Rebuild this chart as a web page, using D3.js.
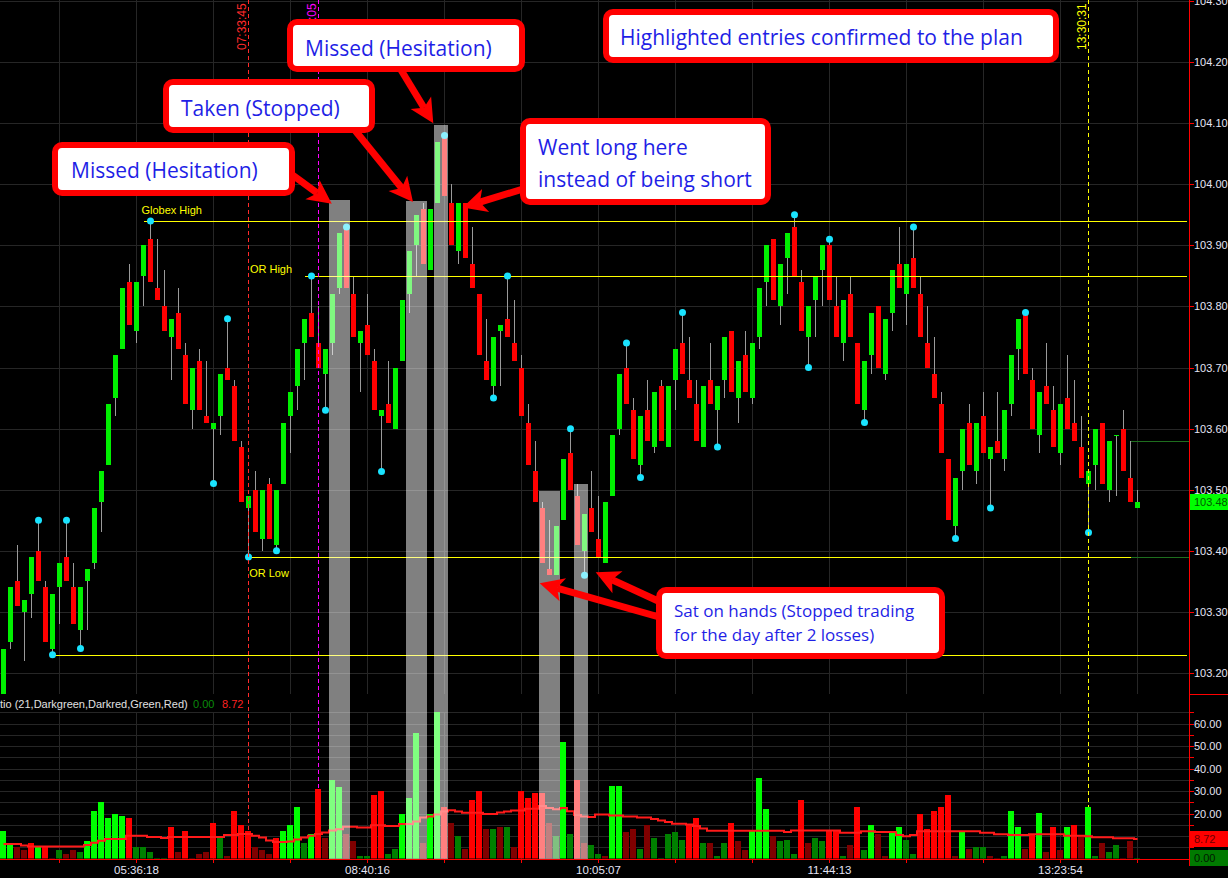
<!DOCTYPE html>
<html><head><meta charset="utf-8">
<script src="https://cdn.jsdelivr.net/npm/d3@7"></script>
<style>html,body{margin:0;padding:0;background:#000;overflow:hidden}</style>
</head><body>
<svg id="chart" width="1228" height="878"></svg>
<script>
// ---------- DATA ----------
const opens = [103.15,103.25,103.35,103.30,103.33,103.40,103.34,103.24,103.34,103.39,
103.34,103.27,103.35,103.38,103.48,103.54,103.65,103.73,103.84,103.76,
103.85,103.91,103.83,103.80,103.75,103.79,103.72,103.63,103.71,103.62,
103.60,103.62,103.70,103.67,103.57,103.47,103.50,103.42,103.51,103.41,
103.51,103.62,103.67,103.74,103.79,103.74,103.69,103.74,103.83,103.93,
103.82,103.74,103.77,103.71,103.62,103.64,103.60,103.71,103.82,103.90,
103.96,103.86,103.97,104.08,103.97,103.89,103.97,103.87,103.82,103.71,
103.67,103.76,103.78,103.74,103.70,103.61,103.53,103.47,103.37,103.36,
103.45,103.56,103.49,103.40,103.47,103.42,103.38,103.49,103.60,103.70,
103.63,103.54,103.63,103.57,103.67,103.57,103.68,103.74,103.68,103.64,
103.57,103.68,103.63,103.68,103.76,103.65,103.72,103.65,103.75,103.84,
103.91,103.80,103.88,103.93,103.84,103.75,103.81,103.86,103.90,103.80,
103.74,103.82,103.74,103.63,103.72,103.80,103.69,103.79,103.87,103.82,
103.88,103.82,103.74,103.69,103.64,103.55,103.44,103.53,103.61,103.53,
103.62,103.55,103.58,103.55,103.64,103.73,103.79,103.68,103.59,103.67,
103.63,103.56,103.65,103.61,103.57,103.51,103.54,103.61,103.50,103.59,
103.60,103.52,103.47];
const highs = [103.24,103.34,103.41,103.32,103.39,103.45,103.35,103.33,103.38,103.45,
103.38,103.34,103.37,103.47,103.53,103.64,103.72,103.83,103.87,103.84,
103.90,103.94,103.91,103.86,103.78,103.83,103.74,103.70,103.73,103.71,
103.61,103.69,103.78,103.68,103.58,103.49,103.53,103.50,103.52,103.50,
103.61,103.66,103.73,103.78,103.85,103.80,103.73,103.82,103.92,103.93,
103.85,103.76,103.82,103.73,103.63,103.71,103.70,103.81,103.89,103.95,
103.97,103.96,104.07,104.08,104.00,103.97,103.97,103.93,103.82,103.78,
103.75,103.77,103.85,103.81,103.72,103.64,103.58,103.48,103.45,103.44,
103.55,103.60,103.51,103.46,103.53,103.49,103.48,103.59,103.69,103.74,
103.65,103.62,103.68,103.66,103.68,103.67,103.73,103.79,103.75,103.68,
103.67,103.74,103.67,103.75,103.76,103.71,103.76,103.74,103.83,103.90,
103.91,103.87,103.92,103.95,103.86,103.80,103.85,103.90,103.91,103.85,
103.81,103.85,103.74,103.71,103.79,103.80,103.78,103.86,103.93,103.87,
103.93,103.85,103.80,103.75,103.66,103.55,103.52,103.60,103.64,103.61,
103.66,103.57,103.66,103.63,103.72,103.78,103.79,103.70,103.66,103.74,
103.67,103.64,103.72,103.68,103.62,103.53,103.60,103.61,103.58,103.59,
103.63,103.58,103.50];
const lows = [103.14,103.24,103.31,103.22,103.29,103.35,103.25,103.23,103.28,103.35,
103.28,103.24,103.27,103.37,103.43,103.54,103.62,103.73,103.77,103.74,
103.80,103.84,103.81,103.76,103.68,103.73,103.64,103.60,103.63,103.61,
103.51,103.59,103.68,103.58,103.48,103.39,103.43,103.40,103.42,103.40,
103.51,103.56,103.63,103.68,103.75,103.70,103.63,103.72,103.82,103.83,
103.75,103.66,103.72,103.63,103.53,103.61,103.60,103.71,103.79,103.85,
103.87,103.86,103.97,103.98,103.90,103.87,103.88,103.83,103.72,103.68,
103.65,103.67,103.75,103.71,103.62,103.54,103.48,103.38,103.36,103.36,
103.45,103.50,103.41,103.36,103.43,103.39,103.38,103.49,103.59,103.64,
103.55,103.52,103.58,103.56,103.58,103.57,103.63,103.69,103.65,103.58,
103.57,103.64,103.57,103.65,103.66,103.61,103.66,103.64,103.73,103.80,
103.81,103.77,103.82,103.85,103.76,103.70,103.75,103.80,103.81,103.75,
103.71,103.75,103.64,103.61,103.69,103.70,103.68,103.76,103.83,103.77,
103.83,103.75,103.70,103.65,103.56,103.45,103.42,103.50,103.54,103.51,
103.56,103.47,103.56,103.53,103.62,103.68,103.69,103.60,103.56,103.64,
103.57,103.54,103.60,103.58,103.52,103.43,103.50,103.51,103.48,103.49,
103.53,103.48,103.47];
const closes = [103.24,103.34,103.31,103.32,103.39,103.35,103.25,103.33,103.38,103.35,
103.28,103.34,103.37,103.47,103.53,103.64,103.72,103.83,103.77,103.84,
103.90,103.84,103.81,103.76,103.78,103.73,103.64,103.70,103.63,103.61,
103.61,103.69,103.68,103.58,103.48,103.49,103.43,103.50,103.42,103.50,
103.61,103.66,103.73,103.78,103.75,103.70,103.73,103.82,103.92,103.83,
103.75,103.76,103.72,103.63,103.63,103.61,103.70,103.81,103.89,103.95,
103.87,103.96,104.07,103.98,103.90,103.97,103.88,103.83,103.72,103.68,
103.75,103.77,103.75,103.71,103.62,103.54,103.48,103.38,103.36,103.44,
103.55,103.50,103.41,103.46,103.43,103.39,103.48,103.59,103.69,103.64,
103.55,103.62,103.58,103.66,103.58,103.67,103.73,103.69,103.65,103.58,
103.67,103.64,103.67,103.75,103.66,103.71,103.66,103.74,103.83,103.90,
103.81,103.87,103.92,103.85,103.76,103.80,103.85,103.90,103.81,103.75,
103.81,103.75,103.64,103.71,103.79,103.70,103.78,103.86,103.83,103.87,
103.83,103.75,103.70,103.65,103.56,103.45,103.52,103.60,103.54,103.61,
103.56,103.57,103.56,103.63,103.72,103.78,103.69,103.60,103.66,103.64,
103.57,103.64,103.60,103.58,103.52,103.53,103.60,103.51,103.58,103.59,
103.53,103.48,103.48];
// swing points marked with cyan dots: [bar index, price]
const swingDots = [[5,103.45],[7,103.23],[9,103.45],[11,103.24],[21,103.94],[30,103.51],[32,103.78],
[35,103.39],[39,103.40],[44,103.85],[46,103.63],[49,103.93],[54,103.53],[63,104.08],[70,103.65],
[72,103.85],[81,103.60],[83,103.36],[89,103.74],[91,103.52],[97,103.79],[102,103.57],[113,103.95],
[115,103.70],[118,103.91],[123,103.61],[130,103.93],[136,103.42],[141,103.47],[146,103.79],[155,103.43]];
// volume ratio indicator
const volumes = [12.4,6.2,4.9,4.0,7.1,5.3,5.3,0.4,4.0,1.8,
4.0,3.1,8.0,20.9,25.3,18.2,19.6,18.7,18.2,5.3,
5.3,3.1,0.4,0.4,14.2,2.7,12.4,0.4,2.2,2.7,
15.6,9.3,0.9,21.3,14.7,12.4,4.9,4.0,1.8,9.3,
12.4,15.1,23.1,7.1,10.7,31.1,9.3,34.7,31.6,11.1,
8.0,1.3,1.3,28.4,29.8,2.2,4.4,20.0,27.1,56.0,
6.7,19.6,65.0,22.7,15.6,9.8,4.4,26.2,30.2,12.9,
13.3,13.8,14.2,4.9,29.8,26.7,28.9,28.9,16.0,10.2,
52.0,10.7,35.1,6.7,6.2,2.2,0.9,32.4,32.4,11.6,
12.9,4.4,14.7,9.3,0.4,11.1,12.0,8.4,15.1,17.8,
7.1,6.7,1.3,6.7,15.6,7.6,4.0,12.4,35.6,22.2,
10.2,8.0,8.4,1.8,25.8,7.1,8.9,7.6,12.4,12.4,
0.9,5.8,22.7,3.6,14.7,10.7,1.3,12.0,14.2,8.4,
2.2,20.0,13.3,20.9,22.7,28.4,0.9,12.0,4.4,5.3,
5.3,0.9,0.4,1.3,21.3,13.8,4.4,10.7,20.4,3.1,
14.2,4.0,13.8,15.1,9.8,23.1,0.9,7.1,2.7,6.2,
0.4,7.6,0.4];
// G = Green, g = Darkgreen, R = Red, r = Darkred
const volColorCodes = ("GGrrRGRrgr"+"rgGGGGGGRg"+"ggggRrRrrr"+"RgrRRRrrrR"+"GGGgGRrGGr"+
"rggRRggGGG"+"rGGRrgrRRr"+"grgrRRRRrg"+"GgRrggrGGr"+"rgrgggggRR"+"grggRrrGGG"+
"rgggRrggRR"+"grRgGrrGGg"+"gRRRRRrGrg"+"grrgGGrRGr"+"RrGRrGgrgg"+"rrg").split("");
const volAverage = [6.4,6.4,6.4,5.8,5.3,5.3,5.3,5.3,5.3,5.3,
5.3,5.3,6.0,7.0,7.9,8.7,8.7,8.7,10.1,10.1,
10.1,9.6,9.6,9.1,9.6,9.6,9.6,9.6,9.6,9.6,
9.6,9.6,10.4,10.4,10.9,10.9,10.1,9.3,8.0,7.3,
7.3,7.6,8.4,9.3,10.1,10.9,11.6,12.4,13.0,14.1,
14.1,13.8,13.8,14.8,14.8,14.4,14.4,15.3,15.3,16.5,
18.2,18.7,19.6,20.9,21.5,20.9,20.3,20.3,20.3,19.8,
19.8,20.4,20.9,21.3,21.3,22.1,22.1,23.3,22.4,21.9,
22.4,21.0,19.3,18.7,18.4,19.6,19.6,19.1,19.1,18.7,
18.7,18.2,18.2,17.6,16.9,16.2,15.4,15.4,15.1,14.4,
13.3,12.3,12.3,12.3,12.3,12.3,12.3,12.3,12.3,12.3,
12.3,12.3,11.8,12.5,12.5,12.5,12.5,12.5,12.5,12.5,
11.4,11.4,11.4,12.1,12.1,11.8,11.8,11.8,10.5,9.9,
10.5,12.1,12.1,12.1,12.1,12.1,12.1,12.1,12.1,12.1,
11.5,11.5,10.8,10.8,10.4,10.4,10.4,10.8,10.8,10.8,
10.8,10.8,10.1,10.1,10.1,9.9,9.5,9.5,9.5,9.0,
9.0,9.0,8.72];
// highlighted entries: first bar, last bar, top price
const highlights = [[47,49,103.975],[58,60,103.972],[62,63,104.097],[77,79,103.498],[82,83,103.509]];
// reference levels: price, first bar, last bar (null = to axis), label, label bar, label dy
const refLevels = [
  {price:103.94, from:20, to:null, label:"Globex High", labelBar:19.7, dy:-7},
  {price:103.85, from:43, to:null, label:"OR High", labelBar:35.2, dy:-3},
  {price:103.39, from:35, to:161, label:"OR Low", labelBar:35.1, dy:20},
  {price:103.23, from:7, to:null, label:"", labelBar:0, dy:0}
];
const extraLevels = [[103.58,161],[103.39,161]];
// vertical time markers: bar index, label, colour
const timeMarkers = [[35,"07:33:45","#ff2a2a"],[45,"08:12:05","#ff00ff"],[155,"13:30:31","#ffff00"]];
// x axis
const gridEvery = 11, gridStart = 8;
const xTickBars = [19,52,85,118,151];
const xTickLabels = ["05:36:18","08:40:16","10:05:07","11:44:13","13:23:54"];
const priceTicks = [103.20,103.30,103.40,103.50,103.60,103.70,103.80,103.90,104.00,104.10,104.20,104.30];
const volTicks = [10,20,30,40,50,60];
const lastPrice = 103.48, lastVol = 8.72;
const indicatorTitle = "tio (21,Darkgreen,Darkred,Green,Red)";

// ---------- SCALES ----------
const N = opens.length;
const svg = d3.select('#chart');
svg.append('rect').attr('width',1228).attr('height',878).attr('fill','#000');
const x = d3.scaleLinear().domain([0, N-1]).range([3.5, 3.5 + 7*(N-1)]);
const y = d3.scaleLinear().domain([103.2, 104.3]).range([673, 1]);
const yv = d3.scaleLinear().domain([0, 60]).range([858.5, 723.5]);
const AX = 1189.5, MAIN_B = 694, VOL_T = 712, VOL_B = 858.5;
const crisp = v => Math.round(v) + 0.5;
const font = 'Liberation Sans, Arial, sans-serif';

const defs = svg.append('defs');
defs.append('clipPath').attr('id','mc').append('rect').attr('x',0).attr('y',0).attr('width',1189).attr('height',MAIN_B);
defs.append('clipPath').attr('id','vc').append('rect').attr('x',0).attr('y',VOL_T).attr('width',1189).attr('height',VOL_B-VOL_T);

// ---------- GRID ----------
const gridBars = d3.range(gridStart, N, gridEvery);
const grid = svg.append('g').attr('stroke','#262626').attr('shape-rendering','crispEdges');
grid.selectAll('.vg1').data(gridBars).join('line').attr('x1',d=>Math.floor(x(d))+0.5).attr('x2',d=>Math.floor(x(d))+0.5).attr('y1',0).attr('y2',MAIN_B);
grid.selectAll('.vg2').data(gridBars).join('line').attr('x1',d=>Math.floor(x(d))+0.5).attr('x2',d=>Math.floor(x(d))+0.5).attr('y1',VOL_T).attr('y2',VOL_B);
grid.selectAll('.hg1').data(priceTicks).join('line').attr('x1',0).attr('x2',1189).attr('y1',d=>crisp(y(d))).attr('y2',d=>crisp(y(d)));
grid.selectAll('.hg2').data(d3.range(5,66,5)).join('line').attr('x1',0).attr('x2',1189).attr('y1',d=>crisp(yv(d))).attr('y2',d=>crisp(yv(d)));

// ---------- MAIN PANEL ----------
const main = svg.append('g').attr('clip-path','url(#mc)');
const bars = d3.range(N);
main.selectAll('.wick').data(bars).join('line')
  .attr('x1',i=>x(i)).attr('x2',i=>x(i))
  .attr('y1',i=>Math.round(y(highs[i]))).attr('y2',i=>Math.round(y(lows[i])))
  .attr('stroke','#9a9a9a').attr('stroke-width',1).attr('shape-rendering','crispEdges');
main.selectAll('.body').data(bars).join('rect')
  .attr('x',i=>x(i)-2.5).attr('width',5)
  .attr('y',i=>Math.round(y(Math.max(opens[i],closes[i]))))
  .attr('height',i=>Math.max(1, Math.round(y(Math.min(opens[i],closes[i]))) - Math.round(y(Math.max(opens[i],closes[i])))))
  .attr('fill',i=>closes[i]>=opens[i] ? '#00f000' : '#ff0000')
  .attr('shape-rendering','crispEdges');

// reference levels
const lv = main.append('g').attr('shape-rendering','crispEdges');
refLevels.forEach(r=>{
  const x2 = r.to===null ? 1187 : x(r.to);
  lv.append('line').attr('x1',x(r.from)).attr('x2',x2).attr('y1',crisp(y(r.price))).attr('y2',crisp(y(r.price)))
    .attr('stroke','#ffff00').attr('stroke-width',1);
  if(r.label) main.append('text').attr('x',x(r.labelBar)).attr('y',y(r.price)+r.dy)
    .attr('fill','#ffff00').attr('font-family',font).attr('font-size',11).text(r.label);
});
extraLevels.forEach(([p,b])=>{
  lv.append('line').attr('x1',x(b)).attr('x2',1189).attr('y1',crisp(y(p))).attr('y2',crisp(y(p)))
    .attr('stroke','#1e6e1e').attr('stroke-width',1);
});

// time markers (dashed verticals) across both panels
timeMarkers.forEach(([b,lab,col])=>{
  svg.append('line').attr('x1',x(b)).attr('x2',x(b)).attr('y1',0).attr('y2',VOL_B)
    .attr('stroke',col).attr('stroke-width',1).attr('stroke-dasharray','4,3').attr('shape-rendering','crispEdges');
  svg.append('text').attr('transform',`translate(${x(b)-3},50) rotate(-90)`)
    .attr('fill',col).attr('font-family',font).attr('font-size',12).text(lab);
});

// dots
main.selectAll('.dot').data(swingDots).join('circle')
  .attr('cx',d=>x(d[0])).attr('cy',d=>y(d[1])).attr('r',3.5).attr('fill','#19e3ff');

// ---------- VOLUME PANEL ----------
const volColor = {G:'#00ff00', g:'#008000', R:'#ff0000', r:'#800000'};
const vol = svg.append('g').attr('clip-path','url(#vc)');
vol.selectAll('.vb').data(bars).join('rect')
  .attr('x',i=>x(i)-3.5).attr('width',6)
  .attr('y',i=>Math.round(yv(volumes[i]))).attr('height',i=>Math.max(1, Math.round(yv(0)) - Math.round(yv(volumes[i]))))
  .attr('fill',i=>volColor[volColorCodes[i]]).attr('shape-rendering','crispEdges');
vol.append('path').datum(volAverage)
  .attr('d', d3.line().x((d,i)=>x(i)).y(d=>yv(d)).curve(d3.curveStep))
  .attr('fill','none').attr('stroke','#ff1a1a').attr('stroke-width',2);

// indicator title
svg.append('text').attr('x',0).attr('y',708).attr('fill','#e0e0e0')
  .attr('font-family',font).attr('font-size',11).text(indicatorTitle);
svg.append('text').attr('x',193).attr('y',708).attr('fill','#0a8a0a')
  .attr('font-family',font).attr('font-size',11).text('0.00');
svg.append('text').attr('x',222).attr('y',708).attr('fill','#ff2020')
  .attr('font-family',font).attr('font-size',11).text(lastVol.toFixed(2));

// ---------- HIGHLIGHTS ----------
svg.selectAll('.hl').data(highlights).join('rect')
  .attr('x',d=>x(d[0])-3.5).attr('width',d=>x(d[1])-x(d[0])+7)
  .attr('y',d=>Math.round(y(d[2]))).attr('height',d=>VOL_B+0.5-Math.round(y(d[2])))
  .attr('fill','#ffffff').attr('opacity',0.5).attr('shape-rendering','crispEdges');

// ---------- AXES ----------
const axisG = svg.append('g').attr('shape-rendering','crispEdges');
axisG.append('line').attr('x1',AX).attr('x2',AX).attr('y1',0).attr('y2',866).attr('stroke','#ff0000');
axisG.append('line').attr('x1',AX).attr('x2',1228).attr('y1',694.5).attr('y2',694.5).attr('stroke','#ff0000');
axisG.append('line').attr('x1',0).attr('x2',AX).attr('y1',VOL_B+0.5).attr('y2',VOL_B+0.5).attr('stroke','#ff0000');
priceTicks.forEach(p=>{
  axisG.append('line').attr('x1',AX).attr('x2',AX+4).attr('y1',crisp(y(p))).attr('y2',crisp(y(p))).attr('stroke','#ff0000');
  svg.append('text').attr('x',1194).attr('y',y(p)+4).attr('fill','#e4e4f4').attr('font-family',font).attr('font-size',11).text(p.toFixed(2));
});
d3.range(5,66,5).forEach(v=>{
  axisG.append('line').attr('x1',AX).attr('x2',AX+4).attr('y1',crisp(yv(v))).attr('y2',crisp(yv(v))).attr('stroke','#ff0000');
});
volTicks.forEach(v=>{
  svg.append('text').attr('x',1194).attr('y',yv(v)+4).attr('fill','#e4e4f4').attr('font-family',font).attr('font-size',11).text(v.toFixed(2));
});
// value boxes
function valBox(cy, bg, fg, txt){
  svg.append('rect').attr('x',1190).attr('y',Math.round(cy-8)).attr('width',38).attr('height',16).attr('fill',bg);
  svg.append('text').attr('x',1194).attr('y',cy+4).attr('fill',fg).attr('font-family',font).attr('font-size',11).text(txt);
}
valBox(y(lastPrice)+0.5, '#00ff00', '#005a00', lastPrice.toFixed(2));
valBox(yv(lastVol), '#ff0000', '#6a0000', lastVol.toFixed(2));
valBox(yv(0)-0.5, '#007a00', '#001800', '0.00');
// x ticks
gridBars.forEach(b=>{
  axisG.append('line').attr('x1',Math.floor(x(b))+0.5).attr('x2',Math.floor(x(b))+0.5).attr('y1',VOL_B).attr('y2',VOL_B+4).attr('stroke','#ff0000');
});
xTickBars.forEach((b,k)=>{
  svg.append('text').attr('x',x(b)).attr('y',874).attr('text-anchor','middle').attr('fill','#e4e4f4')
    .attr('font-family',font).attr('font-size',11.5).text(xTickLabels[k]);
});

// ---------- ANNOTATIONS ----------
const ann = svg.append('g');
function arrow(x1,y1,x2,y2){
  const dx=x2-x1, dy=y2-y1, L=Math.hypot(dx,dy), ux=dx/L, uy=dy/L;
  const hl=24, hw=12, notch=6;
  const bx=x2-ux*hl, by=y2-uy*hl;
  ann.append('line').attr('x1',x1).attr('y1',y1).attr('x2',bx+ux*notch).attr('y2',by+uy*notch)
    .attr('stroke','#ff0000').attr('stroke-width',7);
  ann.append('path').attr('d',`M${x2},${y2}L${bx-uy*hw},${by+ux*hw}L${bx+ux*notch},${by+uy*notch}L${bx+uy*hw},${by-ux*hw}Z`)
    .attr('fill','#ff0000');
}
// arrows: tail in px, tip at (bar, price)
const arrows = [
  [272,160, 46.9,103.968],
  [345,118, 58.5,103.971],
  [395,60, 61.4,104.100],
  [565,176, 65.6,103.962],
  [705,630, 76.6,103.347],
  [695,618, 84.6,103.365]
];
arrows.forEach(a=>arrow(a[0],a[1],x(a[2]),y(a[3])));
const boxes = [
  {x:287,y:19,w:238,h:53, lines:["Missed (Hesitation)"], tx:305, ty:[56], fs:21},
  {x:603,y:9,w:456,h:54, lines:["Highlighted entries confirmed to the plan"], tx:620, ty:[45], fs:21},
  {x:163,y:79,w:212,h:54, lines:["Taken (Stopped)"], tx:181, ty:[116], fs:21},
  {x:52,y:142,w:243,h:54, lines:["Missed (Hesitation)"], tx:71, ty:[178], fs:21},
  {x:520,y:118,w:251,h:87, lines:["Went long here","instead of being short"], tx:538, ty:[155,187], fs:21},
  {x:656,y:587,w:289,h:72, lines:["Sat on hands (Stopped trading","for the day after 2 losses)"], tx:674, ty:[617,641], fs:17}
];
boxes.forEach(b=>{
  ann.append('rect').attr('x',b.x+3).attr('y',b.y+3).attr('width',b.w-6).attr('height',b.h-6)
    .attr('rx',7).attr('fill','#ffffff').attr('stroke','#ff0000').attr('stroke-width',6);
  b.lines.forEach((t,k)=>{
    ann.append('text').attr('x',b.tx).attr('y',b.ty[k]).attr('fill','#1f1fe6')
      .attr('font-family','Open Sans, Noto Sans, sans-serif').attr('font-size',b.fs).text(t);
  });
});
</script>
</body></html>
